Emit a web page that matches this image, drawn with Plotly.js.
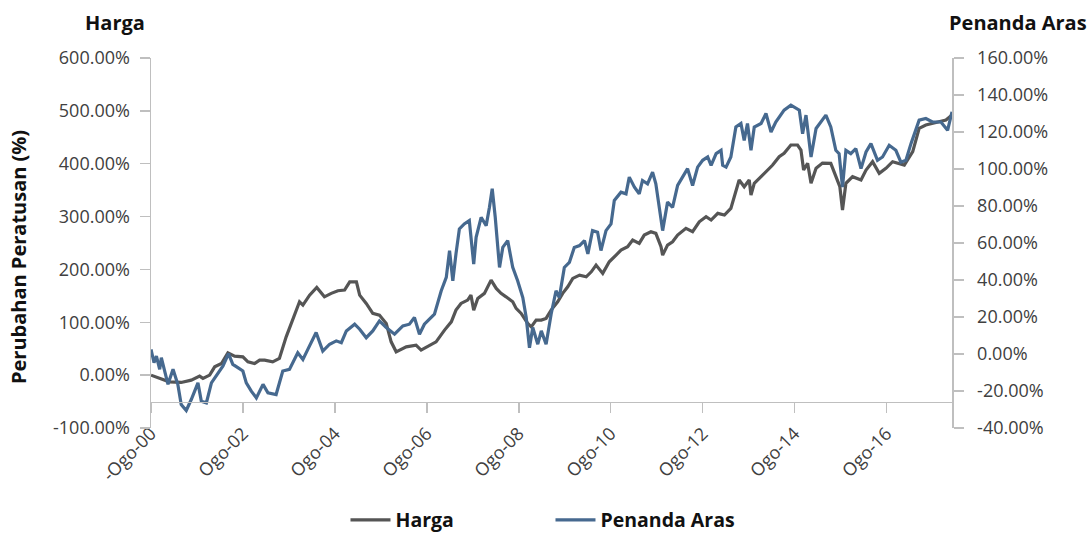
<!DOCTYPE html>
<html>
<head>
<meta charset="utf-8">
<script src="https://cdn.plot.ly/plotly-3.0.1.min.js"></script>
<style>
html,body{margin:0;padding:0;background:#fff;}
#chart{width:1089px;height:533px;}
</style>
</head>
<body>
<div id="chart"></div>
<script>
// ---- Data ----
const hargaDates = ['2000-08-01','2000-09-26','2000-12-24','2001-03-29','2001-06-17','2001-08-22','2001-09-18','2001-11-10','2001-12-20','2002-02-12','2002-04-04','2002-05-27','2002-08-01','2002-09-10','2002-11-02','2002-12-12','2003-01-21','2003-03-26','2003-05-18','2003-07-11','2003-09-16','2003-10-25','2003-11-21','2004-01-13','2004-03-10','2004-05-10','2004-07-03','2004-08-25','2004-10-17','2004-11-27','2005-01-19','2005-02-14','2005-04-07','2005-05-29','2005-07-21','2005-09-13','2005-10-22','2005-12-01','2006-02-19','2006-05-08','2006-06-17','2006-08-09','2006-10-14','2006-12-20','2007-02-12','2007-03-21','2007-04-30','2007-06-22','2007-07-18','2007-08-09','2007-09-10','2007-11-02','2007-12-25','2008-02-04','2008-03-13','2008-04-22','2008-06-14','2008-07-11','2008-08-20','2008-10-11','2008-11-08','2008-12-17','2009-01-27','2009-03-06','2009-04-15','2009-06-06','2009-07-16','2009-08-25','2009-10-04','2009-11-27','2010-01-19','2010-02-28','2010-04-07','2010-05-30','2010-07-21','2010-09-13','2010-10-22','2010-12-14','2011-01-23','2011-03-16','2011-04-25','2011-06-17','2011-07-26','2011-09-05','2011-09-18','2011-10-27','2011-12-06','2012-01-15','2012-03-21','2012-05-13','2012-07-05','2012-08-28','2012-10-07','2012-11-29','2013-01-21','2013-03-13','2013-04-22','2013-05-18','2013-06-27','2013-08-06','2013-08-20','2013-09-15','2013-11-08','2013-12-30','2014-02-08','2014-04-01','2014-05-10','2014-07-03','2014-08-25','2014-09-21','2014-10-12','2014-11-13','2014-12-10','2015-01-19','2015-03-11','2015-05-16','2015-06-25','2015-07-27','2015-08-17','2015-09-13','2015-11-05','2016-01-11','2016-02-20','2016-04-12','2016-06-04','2016-07-27','2016-09-18','2016-11-10','2016-12-20','2017-02-25','2017-04-17','2017-06-09','2017-08-01','2017-09-23','2017-11-16','2018-01-03'];
const hargaValues = [0,-5.1,-12.7,-13.8,-9.5,-1.9,-6.2,0,15.7,22.1,42.2,36.0,34.6,25.2,22.1,28.4,28.4,25.2,31.6,72.5,116.8,138.8,132.5,151.4,166.0,148.2,154.7,159.6,160.9,176.6,176.6,151.4,135.7,116.8,113.6,97.9,63.0,44.1,53.6,56.8,47.3,53.6,63.0,85.2,100.9,123.0,135.7,142.0,151.4,123.0,145.2,154.7,179.8,164.1,154.7,148.2,138.8,126.3,116.8,97.9,91.4,104.1,104.1,107.3,123.0,138.8,154.7,167.1,183.1,189.3,186.1,195.5,208.2,192.5,214.5,227.1,236.6,242.9,255.5,249.3,265.0,271.3,268.2,242.9,227.1,246.1,252.3,265.0,277.7,271.3,290.2,299.7,293.4,306.1,302.9,315.6,350.2,369.1,356.4,369.1,340.7,362.9,375.4,388.1,397.5,413.2,419.7,435.4,435.4,425.9,388.1,400.7,362.9,391.3,401.3,400.7,375.4,356.4,312.3,362.9,375.4,369.1,388.1,403.8,381.8,391.3,403.8,400.7,397.5,422.7,467.0,473.2,476.5,479.5,482.7,492.2];

const arasDates = ['2000-08-01','2000-08-25','2000-09-13','2000-10-09','2000-10-22','2000-11-24','2000-12-14','2001-01-23','2001-03-02','2001-03-29','2001-05-08','2001-06-17','2001-08-09','2001-09-05','2001-10-15','2001-11-24','2002-01-03','2002-02-24','2002-04-09','2002-05-13','2002-06-22','2002-08-01','2002-08-28','2002-10-07','2002-11-16','2003-01-08','2003-02-16','2003-04-22','2003-06-14','2003-08-06','2003-10-11','2003-11-21','2003-12-30','2004-03-05','2004-04-27','2004-06-20','2004-08-12','2004-09-21','2004-10-31','2005-01-05','2005-02-14','2005-04-07','2005-05-29','2005-07-21','2005-09-13','2005-11-18','2006-01-23','2006-03-16','2006-04-25','2006-06-04','2006-07-13','2006-10-01','2006-11-24','2007-01-03','2007-01-29','2007-02-24','2007-03-21','2007-04-17','2007-05-26','2007-07-05','2007-08-09','2007-08-28','2007-10-07','2007-11-16','2007-12-12','2008-01-03','2008-01-27','2008-03-01','2008-03-27','2008-05-05','2008-06-14','2008-07-23','2008-09-02','2008-09-29','2008-10-25','2008-11-20','2008-12-30','2009-01-27','2009-03-06','2009-04-15','2009-05-24','2009-06-19','2009-07-29','2009-09-07','2009-10-16','2009-11-27','2010-01-05','2010-02-01','2010-03-10','2010-04-19','2010-05-16','2010-06-25','2010-08-04','2010-08-30','2010-10-22','2010-12-01','2010-12-27','2011-02-06','2011-03-16','2011-04-11','2011-05-21','2011-06-30','2011-07-26','2011-08-22','2011-09-18','2011-10-27','2011-12-06','2012-01-15','2012-02-24','2012-04-03','2012-05-13','2012-06-22','2012-08-01','2012-09-10','2012-10-07','2012-11-16','2012-12-25','2013-01-07','2013-02-03','2013-03-13','2013-04-22','2013-06-01','2013-06-27','2013-07-23','2013-08-20','2013-09-15','2013-11-08','2013-12-17','2014-01-26','2014-03-05','2014-05-10','2014-07-03','2014-09-08','2014-10-04','2014-10-31','2014-12-10','2015-01-19','2015-03-11','2015-04-07','2015-05-16','2015-06-25','2015-07-21','2015-08-17','2015-09-13','2015-10-22','2015-12-01','2016-01-11','2016-02-20','2016-03-30','2016-05-21','2016-06-30','2016-08-22','2016-10-14','2016-11-23','2017-01-02','2017-02-11','2017-04-17','2017-06-09','2017-08-01','2017-10-07','2017-11-29','2018-01-03'];
const arasValues = [2.5,-4.7,-1.1,-8.3,-2.0,-10.1,-16.4,-8.3,-16.4,-27.3,-30.5,-24.6,-15.6,-25.5,-26.4,-15.6,-11.9,-6.5,0.2,-5.6,-7.4,-9.2,-15.6,-20.1,-23.7,-16.4,-21.0,-21.9,-9.2,-8.3,0.7,-2.9,2.5,11.6,1.6,5.3,7.1,6.1,12.5,16.1,13.4,8.8,12.5,17.9,14.3,10.7,15.2,16.1,19.7,10.7,16.1,21.5,34.2,41.4,55.9,39.6,54.1,67.6,70.3,72.1,48.6,63.1,73.9,69.4,79.3,89.3,73.9,46.8,57.6,61.3,46.8,39.6,30.5,19.7,3.4,14.3,5.3,12.5,5.3,21.5,34.2,30.5,46.8,49.5,57.6,58.6,61.3,54.1,66.7,65.8,55.9,66.7,70.3,83.0,87.5,86.6,95.6,90.2,86.6,93.8,92.0,98.3,92.0,79.3,66.7,82.1,79.3,91.1,95.6,100.2,91.1,101.0,104.7,106.5,102.0,108.3,110.1,102.0,101.0,106.5,122.7,124.6,115.5,124.6,110.1,122.7,124.6,130.0,120.0,125.4,131.8,134.5,131.8,119.1,129.1,106.5,121.9,126.4,129.1,122.7,110.1,108.3,90.2,110.1,108.3,111.0,100.2,109.2,113.7,104.7,106.5,112.8,110.1,103.7,104.7,113.7,126.4,127.3,125.4,125.4,120.9,130.9];

const xTickVals = ['2000-08-01','2002-08-01','2004-08-01','2006-08-01','2008-08-01','2010-08-01','2012-08-01','2014-08-01','2016-08-01'];
const xTickText = ['-Ogo-00','Ogo-02','Ogo-04','Ogo-06','Ogo-08','Ogo-10','Ogo-12','Ogo-14','Ogo-16'];
const leftTickVals = [-100, 0, 100, 200, 300, 400, 500, 600];
const leftTickText = ['-100.00%','0.00%','100.00%','200.00%','300.00%','400.00%','500.00%','600.00%'];
const rightTickVals = [-40, -20, 0, 20, 40, 60, 80, 100, 120, 140, 160];
const rightTickText = ['-40.00%','-20.00%','0.00%','20.00%','40.00%','60.00%','80.00%','100.00%','120.00%','140.00%','160.00%'];
const seriesNames = ['Harga','Penanda Aras'];
const leftTitle = 'Harga';
const rightTitle = 'Penanda Aras';
const yTitle = 'Perubahan Peratusan (%)';

const GRAY = '#555555';
const BLUE = '#46698f';
const AXIS = '#bfbfbf';
const FONT = '"Open Sans", Lato, sans-serif';
const TICKFONT = {family: FONT, size: 18, color: '#404040'};
const BOLDFONT = {family: FONT, size: 20, color: '#111'};

const traces = [
  {x: hargaDates, y: hargaValues, name: seriesNames[0], type: 'scatter', mode: 'lines',
   line: {color: GRAY, width: 3.2}, yaxis: 'y', xaxis: 'x'},
  {x: arasDates, y: arasValues, name: seriesNames[1], type: 'scatter', mode: 'lines',
   line: {color: BLUE, width: 3.2}, yaxis: 'y2', xaxis: 'x'}
];

const layout = {
  width: 1089, height: 533,
  margin: {l: 151, r: 137, t: 58, b: 105, pad: 0},
  paper_bgcolor: '#fff', plot_bgcolor: '#fff',
  font: {family: FONT, color: '#404040', size: 18},
  showlegend: true,
  legend: {orientation: 'h', xref: 'container', yref: 'container', x: 0.5055, xanchor: 'center',
           y: 0.024, yanchor: 'middle', font: {family: FONT, size: 19.5, color: '#111', weight: 'bold'},
           entrywidth: 150, entrywidthmode: 'pixels', itemwidth: 40},
  xaxis: {type: 'date', range: ['2000-08-01', '2018-01-03'], anchor: 'free', position: 50/700,
          showgrid: false, zeroline: false, showline: true, linecolor: AXIS, linewidth: 1.5,
          ticks: 'outside', ticklen: 10, tickcolor: AXIS, tickwidth: 1.5,
          tickmode: 'array', tickvals: xTickVals, ticktext: xTickText, tickangle: -45,
          ticklabelstandoff: 3, tickfont: TICKFONT},
  yaxis: {range: [-100, 600], tickmode: 'array', tickvals: leftTickVals, ticktext: leftTickText,
          showgrid: false, zeroline: false, showline: true, linecolor: AXIS, linewidth: 1.5,
          ticks: 'outside', ticklen: 10, tickcolor: AXIS, tickwidth: 1.5, anchor: 'x', side: 'left',
          ticklabelstandoff: 6, tickfont: TICKFONT},
  yaxis2: {range: [-40, 160], tickmode: 'array', tickvals: rightTickVals, ticktext: rightTickText,
          overlaying: 'y', side: 'right', anchor: 'x',
          showgrid: false, zeroline: false, showline: true, linecolor: AXIS, linewidth: 1.5,
          ticks: 'outside', ticklen: 10, tickcolor: AXIS, tickwidth: 1.5,
          ticklabelstandoff: 10, tickfont: TICKFONT},
  annotations: [
    {text: '<b>' + leftTitle + '</b>', xref: 'paper', yref: 'paper', x: 0, xshift: -36, y: 1.0, yshift: 36,
     xanchor: 'center', yanchor: 'middle', showarrow: false, font: BOLDFONT},
    {text: '<b>' + rightTitle + '</b>', xref: 'paper', yref: 'paper', x: 1.0, xshift: 66, y: 1.0, yshift: 36,
     xanchor: 'center', yanchor: 'middle', showarrow: false, font: BOLDFONT},
    {text: '<b>' + yTitle + '</b>', xref: 'paper', yref: 'paper', x: 0, xshift: -133, y: 0.462,
     xanchor: 'center', yanchor: 'middle', textangle: -90, showarrow: false, font: BOLDFONT}
  ]
};

Plotly.newPlot('chart', traces, layout, {displayModeBar: false, staticPlot: true});
</script>
</body>
</html>
